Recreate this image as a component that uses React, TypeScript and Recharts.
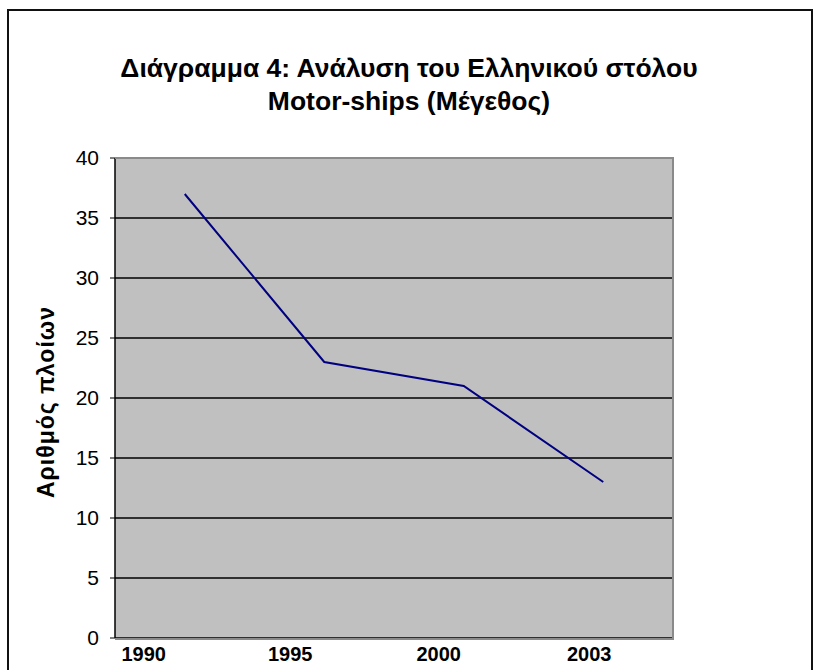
import { LineChart, Line, XAxis, YAxis, CartesianGrid } from "recharts";

// Διάγραμμα 4 - Motor-ships (Μέγεθος)
const years = ["1990", "1995", "2000", "2003"];
const ships = [37, 23, 21, 13];
const yTicks = [0, 5, 10, 15, 20, 25, 30, 35, 40];

// excel puts the year labels a little left of the points
const labelNudge = [-41, -34, -25, -14];

const data = years.map((y, i) => ({ year: y, ships: ships[i] }));

const FONT = "'Liberation Sans', Arial, sans-serif";

function YearTick(props: any) {
    const { x, y, payload, index } = props;
    return (
        <text
            x={x + (labelNudge[index] || 0)}
            y={y + 23}
            textAnchor="middle"
            fontFamily={FONT}
            fontSize={20}
            fontWeight="bold"
            fill="#000"
        >
            {payload.value}
        </text>
    );
}

export default function App() {
    return (
        <div style={{ position: "absolute", left: 0, top: 0, width: 816, height: 670, background: "#fff", overflow: "hidden" }}>
            {/* outer frame */}
            <div
                style={{
                    position: "absolute",
                    left: 7,
                    top: 9,
                    width: 806,
                    height: 700,
                    border: "2px solid #111",
                    boxSizing: "border-box",
                }}
            />

            {/* title */}
            <div
                style={{
                    position: "absolute",
                    left: 0,
                    top: 52,
                    width: 818,
                    textAlign: "center",
                    fontFamily: FONT,
                    fontWeight: "bold",
                    fontSize: 26.5,
                    lineHeight: "33px",
                    color: "#000",
                }}
            >
                Διάγραμμα 4: Ανάλυση του Ελληνικού στόλου
                <br />
                Motor-ships (Μέγεθος)
            </div>

            <div style={{ position: "absolute", left: 0, top: 0 }}>
                <LineChart width={816} height={670} data={data} margin={{ top: 158, right: 143, bottom: 0, left: 0 }}>
                    <CartesianGrid vertical={false} stroke="#000" strokeWidth={1.5} fill="#C0C0C0" fillOpacity={1} />
                    <XAxis
                        dataKey="year"
                        height={32}
                        padding={{ left: 69.75, right: 69.75 }}
                        axisLine={false}
                        tickLine={false}
                        tickSize={0}
                        tickMargin={0}
                        tick={<YearTick />}
                        interval={0}
                    />
                    <YAxis
                        width={115}
                        domain={[0, 40]}
                        ticks={yTicks}
                        interval={0}
                        axisLine={{ stroke: "#000", strokeWidth: 1.5 }}
                        tickLine={{ stroke: "#000" }}
                        tickSize={5}
                        tickMargin={11}
                        tick={{ fontFamily: FONT, fontSize: 21, fill: "#000" }}
                    />
                    <Line
                        type="linear"
                        dataKey="ships"
                        stroke="#000080"
                        strokeWidth={2}
                        dot={false}
                        isAnimationActive={false}
                    />
                </LineChart>
            </div>

            {/* plot area edge (grey, with a slight shadow right and bottom) */}
            <div
                style={{
                    position: "absolute",
                    left: 115,
                    top: 157,
                    width: 559,
                    height: 483,
                    borderTop: "2px solid #8a8a8a",
                    borderRight: "2px solid #8a8a8a",
                    borderBottom: "2px solid #8a8a8a",
                    boxSizing: "border-box",
                    pointerEvents: "none",
                }}
            />

            {/* y axis title */}
            <div
                style={{
                    position: "absolute",
                    left: 46,
                    top: 402,
                    transform: "translate(-50%, -50%) rotate(-90deg)",
                    whiteSpace: "nowrap",
                    fontFamily: FONT,
                    fontWeight: "bold",
                    fontSize: 23,
                    letterSpacing: 1,
                    color: "#000",
                }}
            >
                Αριθμός πλοίων
            </div>
        </div>
    );
}
